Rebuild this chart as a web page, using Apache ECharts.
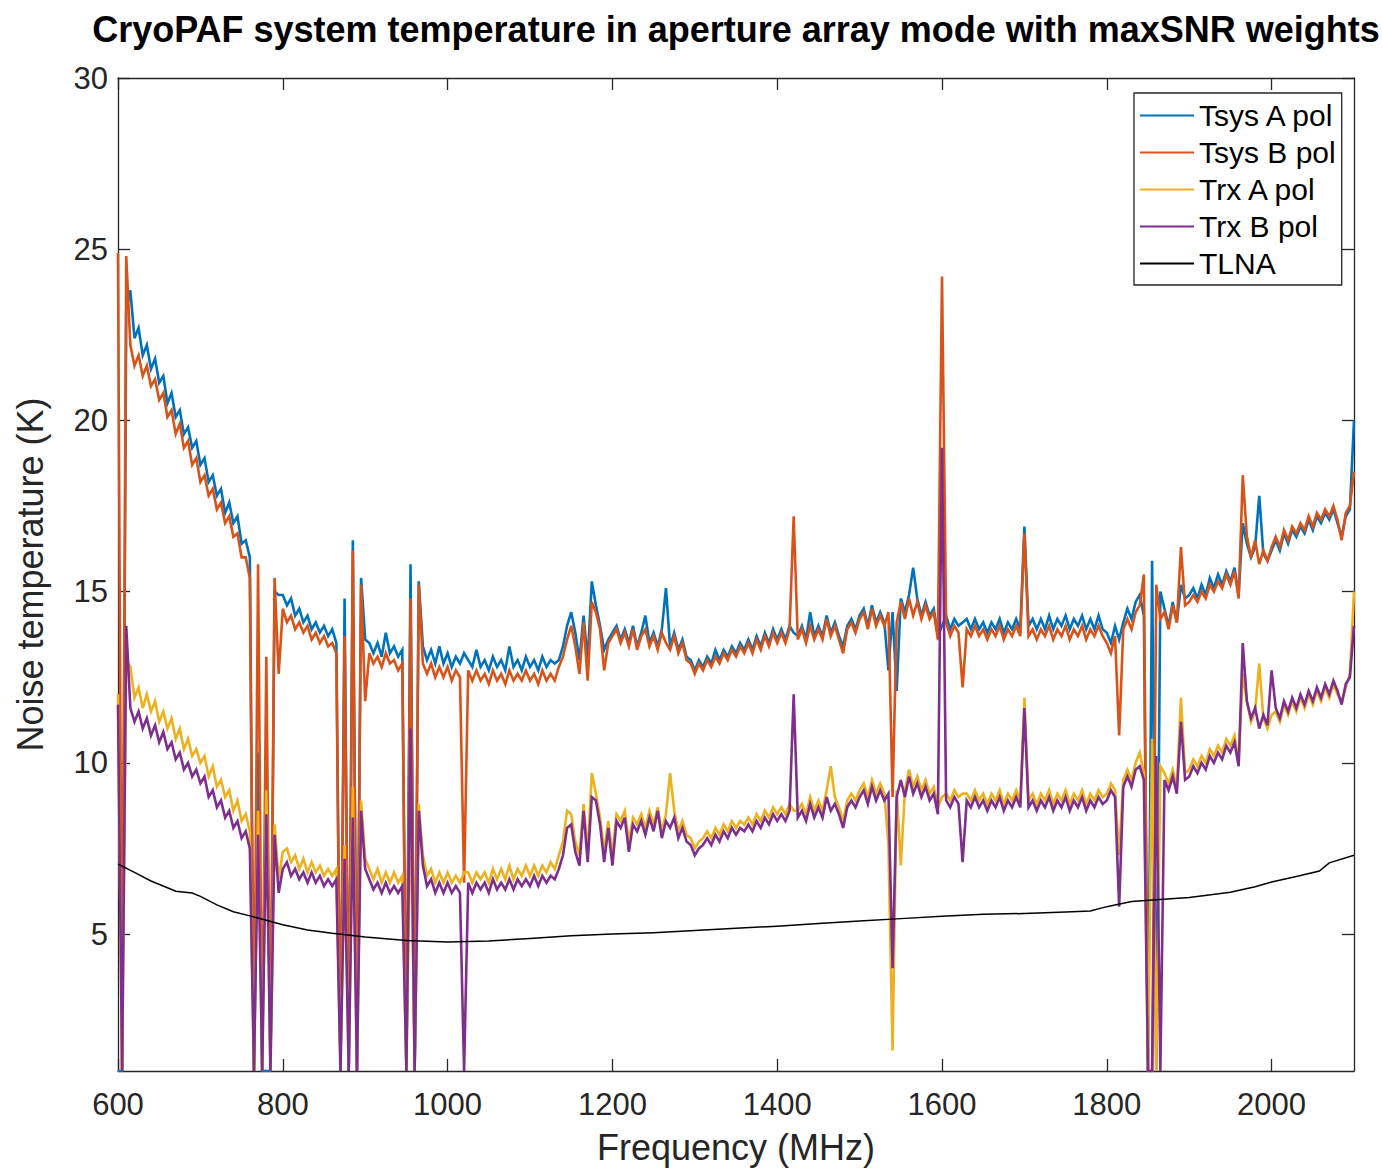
<!DOCTYPE html>
<html>
<head>
<meta charset="utf-8">
<script src="https://cdn.jsdelivr.net/npm/echarts@6/dist/echarts.min.js"></script>
<style>
html,body{margin:0;padding:0;background:#fff;}
#chart{width:1382px;height:1170px;}
</style>
</head>
<body>
<div id="chart"></div>
<script>
// Sample grid: 600 .. 2100 MHz, every 5 MHz (301 samples per series)
const freqStart = 600;
const freqStep = 5;

const tsysA = [
  1.0, 1.0, 23.2, 23.8, 22.4, 22.7, 21.9, 22.2, 21.5, 21.8, 21.1, 21.3, 20.5, 20.8, 20.1, 20.3, 19.6, 19.8, 19.2, 19.4,
  18.7, 18.9, 18.2, 18.4, 17.8, 18.0, 17.3, 17.6, 17.0, 17.2, 16.4, 16.5, 16.0, 1.0, 10.3, 1.0, 1.0, 1.0, 15.0, 14.9,
  14.9, 14.6, 14.8, 14.3, 14.5, 14.1, 14.3, 13.9, 14.1, 13.8, 14.0, 13.7, 13.9, 13.5, 1.0, 14.8, 1.0, 16.5, 1.0, 15.4,
  13.6, 13.5, 13.2, 13.5, 13.1, 13.8, 13.2, 13.4, 13.1, 13.3, 1.0, 15.8, 1.0, 15.3, 13.4, 13.0, 13.3, 12.9, 13.4, 12.9,
  13.2, 12.8, 13.1, 12.9, 13.2, 13.0, 12.8, 13.3, 12.8, 13.0, 12.7, 13.1, 12.8, 13.0, 12.7, 13.4, 12.8, 13.0, 12.7, 13.1,
  12.8, 13.0, 12.7, 13.1, 12.8, 13.0, 12.9, 13.0, 13.4, 14.0, 14.4, 13.8, 13.0, 14.3, 13.0, 15.3, 14.6, 14.0, 13.3, 13.6,
  13.8, 14.0, 13.6, 13.9, 13.5, 14.0, 13.4, 13.8, 14.3, 13.5, 13.8, 13.4, 13.9, 15.1, 13.4, 13.8, 13.3, 13.6, 13.1, 13.0,
  12.7, 13.0, 12.8, 13.1, 12.9, 13.3, 13.0, 13.3, 13.1, 13.4, 13.2, 13.5, 13.3, 13.6, 13.3, 13.7, 13.4, 13.8, 13.5, 13.9,
  13.6, 13.9, 13.6, 14.0, 13.8, 13.7, 14.0, 13.6, 14.4, 13.7, 14.0, 13.7, 14.3, 13.8, 14.1, 13.7, 13.4, 14.0, 14.2, 13.9,
  14.3, 14.5, 14.0, 14.6, 14.1, 14.4, 14.1, 12.7, 14.4, 12.1, 14.8, 14.4, 14.9, 15.7, 14.8, 14.3, 14.7, 14.3, 14.5, 13.7,
  14.0, 14.3, 13.9, 14.2, 14.0, 14.1, 14.2, 13.9, 14.2, 13.9, 14.1, 13.8, 14.1, 13.9, 14.2, 13.8, 14.1, 13.9, 14.2, 13.9,
  16.9, 14.0, 14.2, 13.9, 14.2, 13.9, 14.3, 13.9, 14.2, 14.0, 14.3, 13.9, 14.2, 14.0, 14.3, 13.9, 14.2, 13.9, 14.3, 13.9,
  13.8, 13.5, 14.0, 13.6, 14.1, 14.5, 14.2, 14.7, 14.9, 14.3, 1.0, 15.9, 1.0, 15.0, 14.5, 14.0, 14.7, 14.1, 15.2, 14.8,
  14.9, 15.1, 14.8, 15.2, 14.9, 15.4, 15.1, 15.5, 15.2, 15.6, 15.3, 15.7, 14.9, 17.0, 16.4, 16.0, 16.3, 17.8, 16.1, 15.9,
  16.2, 16.5, 16.2, 16.7, 16.4, 16.8, 16.6, 16.9, 16.7, 17.1, 16.8, 17.2, 17.0, 17.3, 17.1, 17.4, 17.0, 16.6, 17.2, 17.4,
  20.0
];

const tsysB = [
  24.9, 1.0, 24.8, 22.2, 21.6, 21.9, 21.3, 21.6, 21.0, 21.2, 20.6, 20.8, 20.1, 20.3, 19.6, 19.9, 19.2, 19.4, 18.7, 18.9,
  18.2, 18.4, 17.8, 18.0, 17.4, 17.6, 17.0, 17.2, 16.6, 16.7, 16.0, 16.0, 15.4, 1.0, 15.8, 1.0, 13.1, 1.0, 15.4, 12.6,
  14.5, 14.1, 14.3, 13.9, 14.1, 13.8, 14.0, 13.6, 13.8, 13.5, 13.7, 13.4, 13.5, 13.2, 1.0, 13.7, 1.0, 16.2, 1.0, 15.2,
  11.8, 13.2, 12.9, 13.1, 12.8, 13.2, 12.9, 13.0, 12.7, 12.9, 1.0, 14.8, 1.0, 15.2, 12.9, 12.6, 12.9, 12.5, 12.8, 12.5,
  12.8, 12.4, 12.7, 12.5, 6.5, 12.7, 12.4, 12.7, 12.4, 12.6, 12.3, 12.7, 12.4, 12.6, 12.3, 12.7, 12.4, 12.6, 12.4, 12.7,
  12.4, 12.6, 12.3, 12.7, 12.4, 12.6, 12.4, 12.8, 13.1, 13.6, 14.0, 13.4, 12.6, 14.1, 12.4, 14.7, 14.4, 13.9, 12.7, 13.5,
  13.7, 13.9, 13.5, 13.8, 13.4, 13.9, 13.3, 13.7, 13.9, 13.4, 13.7, 13.3, 13.8, 13.5, 13.3, 13.7, 13.2, 13.5, 13.0, 12.9,
  12.6, 12.9, 12.7, 13.0, 12.8, 13.1, 12.9, 13.2, 13.0, 13.3, 13.1, 13.4, 13.2, 13.5, 13.2, 13.6, 13.3, 13.7, 13.4, 13.8,
  13.5, 13.8, 13.5, 13.9, 17.2, 13.6, 13.9, 13.5, 14.0, 13.6, 13.9, 13.6, 14.2, 13.7, 14.0, 13.6, 13.2, 13.9, 14.1, 13.8,
  14.2, 14.4, 13.9, 14.5, 14.0, 14.3, 14.0, 14.4, 9.0, 14.1, 14.7, 14.2, 14.8, 14.3, 14.7, 14.2, 14.6, 14.2, 14.4, 13.6,
  24.2, 14.1, 13.7, 14.0, 13.8, 12.2, 13.9, 13.7, 14.0, 13.7, 13.9, 13.6, 13.9, 13.7, 14.0, 13.6, 13.9, 13.7, 14.0, 13.7,
  16.7, 13.7, 13.9, 13.6, 13.9, 13.7, 14.0, 13.6, 13.9, 13.7, 14.0, 13.6, 13.9, 13.7, 14.0, 13.6, 13.9, 13.7, 14.0, 13.7,
  13.5, 13.2, 13.7, 10.8, 13.9, 14.2, 13.9, 14.4, 14.6, 15.5, 1.0, 1.0, 15.2, 14.2, 14.4, 13.9, 14.6, 14.1, 16.3, 14.6,
  14.7, 14.9, 14.7, 15.0, 14.8, 15.2, 15.0, 15.3, 15.1, 15.5, 15.2, 15.6, 14.8, 18.4, 16.6, 16.0, 16.5, 15.8, 16.2, 15.9,
  16.3, 16.6, 16.3, 16.8, 16.5, 16.9, 16.7, 17.0, 16.8, 17.2, 16.9, 17.3, 17.1, 17.4, 17.2, 17.5, 17.1, 16.5, 17.3, 17.5,
  18.5
];

const trxA = [
  12.0, 1.0, 13.0, 12.8, 11.9, 12.2, 11.6, 12.0, 11.5, 11.8, 11.2, 11.5, 11.0, 11.3, 10.7, 11.0, 10.4, 10.7, 10.2, 10.4,
  10.0, 10.2, 9.6, 9.9, 9.3, 9.5, 9.0, 9.2, 8.6, 8.9, 8.3, 8.5, 8.0, 1.0, 8.6, 1.0, 9.2, 1.0, 8.2, 6.6,
  7.4, 7.5, 7.1, 7.3, 6.9, 7.2, 6.8, 7.1, 6.8, 7.0, 6.7, 6.9, 6.7, 6.9, 1.0, 7.6, 1.0, 9.3, 1.0, 8.9,
  7.2, 6.9, 6.6, 6.9, 6.5, 6.8, 6.5, 6.8, 6.5, 6.7, 1.0, 8.9, 1.0, 8.8, 7.3, 6.7, 6.9, 6.5, 6.8, 6.5,
  6.8, 6.5, 6.7, 6.5, 6.8, 6.8, 6.5, 6.8, 6.6, 6.8, 6.5, 6.9, 6.6, 6.9, 6.6, 7.0, 6.6, 6.9, 6.7, 7.0,
  6.7, 7.0, 6.7, 7.0, 6.8, 7.1, 6.9, 7.3, 7.7, 8.6, 8.5, 7.7, 7.3, 8.8, 7.4, 9.7, 9.1, 8.4, 7.4, 8.3,
  7.3, 8.5, 8.3, 8.6, 7.7, 8.4, 8.2, 8.5, 8.1, 8.6, 8.2, 8.7, 8.0, 8.5, 9.7, 8.6, 8.0, 8.3, 7.9, 7.8,
  7.5, 7.7, 7.8, 8.0, 7.8, 8.1, 7.9, 8.2, 8.0, 8.3, 8.1, 8.3, 8.2, 8.4, 8.2, 8.5, 8.3, 8.6, 8.4, 8.7,
  8.5, 8.7, 8.5, 8.8, 8.6, 8.6, 8.8, 8.5, 9.0, 8.6, 8.9, 8.6, 9.2, 9.9, 9.0, 8.7, 8.3, 8.9, 9.1, 8.9,
  9.2, 9.4, 9.0, 9.5, 9.1, 9.4, 9.1, 7.6, 1.6, 9.2, 7.0, 9.2, 9.8, 9.3, 9.6, 9.2, 9.5, 9.1, 9.3, 8.7,
  9.0, 9.1, 8.9, 9.2, 9.0, 9.1, 9.1, 8.9, 9.2, 8.9, 9.1, 8.8, 9.1, 8.9, 9.2, 8.8, 9.1, 8.9, 9.2, 8.9,
  11.9, 8.9, 9.1, 8.8, 9.1, 8.9, 9.2, 8.8, 9.1, 8.9, 9.2, 8.8, 9.1, 8.9, 9.2, 8.8, 9.1, 8.9, 9.2, 9.0,
  9.1, 9.4, 9.2, 7.3, 9.5, 9.8, 9.5, 10.0, 10.3, 9.7, 1.0, 10.7, 1.0, 9.9, 9.7, 9.4, 9.8, 9.3, 11.9, 9.7,
  9.8, 10.1, 9.9, 10.2, 10.0, 10.4, 10.2, 10.5, 10.3, 10.7, 10.5, 10.8, 10.0, 12.6, 11.8, 11.2, 11.5, 12.9, 11.3, 11.0,
  11.4, 11.5, 11.2, 11.7, 11.4, 11.8, 11.5, 11.9, 11.6, 12.0, 11.7, 12.1, 11.8, 12.2, 11.9, 12.3, 12.0, 11.8, 12.2, 12.6,
  15.0
];

const trxB = [
  11.7, 1.0, 14.0, 11.6, 11.2, 11.5, 11.0, 11.3, 10.8, 11.1, 10.6, 10.9, 10.4, 10.6, 10.1, 10.3, 9.8, 10.0, 9.6, 9.8,
  9.4, 9.6, 9.0, 9.2, 8.7, 8.9, 8.4, 8.6, 8.1, 8.3, 7.8, 8.0, 7.5, 1.0, 7.9, 1.0, 8.5, 1.0, 7.9, 6.2,
  6.9, 7.1, 6.7, 6.9, 6.6, 6.8, 6.5, 6.8, 6.5, 6.7, 6.4, 6.6, 6.4, 6.6, 1.0, 7.2, 1.0, 8.4, 1.0, 8.6,
  6.9, 6.6, 6.3, 6.5, 6.2, 6.5, 6.2, 6.4, 6.2, 6.4, 1.0, 11.0, 1.0, 8.6, 7.0, 6.4, 6.6, 6.2, 6.5, 6.2,
  6.5, 6.2, 6.4, 6.2, 1.0, 6.5, 6.2, 6.5, 6.3, 6.5, 6.2, 6.6, 6.3, 6.5, 6.3, 6.6, 6.3, 6.6, 6.4, 6.6,
  6.4, 6.7, 6.4, 6.7, 6.5, 6.7, 6.6, 6.9, 7.3, 8.1, 8.2, 7.4, 7.0, 8.6, 7.1, 9.0, 8.9, 8.2, 7.1, 8.1,
  7.0, 8.3, 8.1, 8.4, 7.4, 8.2, 8.0, 8.3, 7.9, 8.4, 8.0, 8.6, 7.8, 8.3, 8.1, 8.4, 7.8, 8.1, 7.7, 7.6,
  7.3, 7.5, 7.6, 7.8, 7.6, 7.9, 7.7, 8.0, 7.8, 8.1, 7.9, 8.1, 8.0, 8.2, 8.0, 8.3, 8.1, 8.4, 8.2, 8.5,
  8.3, 8.5, 8.3, 8.6, 12.0, 8.4, 8.6, 8.3, 8.8, 8.4, 8.7, 8.4, 9.0, 8.6, 8.8, 8.5, 8.1, 8.7, 8.9, 8.7,
  9.0, 9.2, 8.8, 9.3, 8.9, 9.2, 8.9, 9.1, 4.0, 9.0, 9.5, 9.0, 9.6, 9.1, 9.4, 9.0, 9.3, 8.9, 9.1, 8.5,
  19.2, 8.9, 8.7, 9.0, 8.8, 7.1, 8.9, 8.7, 9.0, 8.7, 8.9, 8.6, 8.9, 8.7, 9.0, 8.6, 8.9, 8.7, 9.0, 8.7,
  11.6, 8.7, 8.9, 8.6, 8.9, 8.7, 9.0, 8.6, 8.9, 8.7, 9.0, 8.6, 8.9, 8.7, 9.0, 8.6, 8.9, 8.7, 9.0, 8.8,
  8.9, 9.2, 9.0, 5.8, 9.3, 9.6, 9.3, 9.8, 9.9, 9.5, 1.0, 1.0, 10.2, 1.0, 9.5, 9.2, 9.6, 9.1, 11.2, 9.5,
  9.6, 9.9, 9.7, 10.0, 9.8, 10.2, 10.0, 10.3, 10.1, 10.5, 10.3, 10.6, 9.9, 13.5, 11.8, 11.3, 11.6, 11.0, 11.4, 11.1,
  12.7, 11.6, 11.3, 11.8, 11.5, 11.9, 11.6, 12.0, 11.7, 12.1, 11.8, 12.2, 11.9, 12.3, 12.0, 12.4, 12.1, 11.7, 12.3, 12.5,
  14.0
];

// LNA noise temperature, sampled separately
const tlnaFreq = [600, 620, 640, 660, 670, 690, 700, 720, 740, 760, 780, 800, 830, 860, 900, 950, 1000, 1050, 1100, 1150,
  1200, 1250, 1300, 1350, 1400, 1450, 1500, 1550, 1600, 1650, 1700, 1750, 1780, 1800, 1830, 1860, 1900, 1950, 1980, 2000,
  2030, 2058, 2070, 2100];
const tlnaVals = [7.04, 6.8, 6.55, 6.35, 6.25, 6.2, 6.1, 5.85, 5.65, 5.53, 5.4, 5.27, 5.12, 5.02, 4.91, 4.81, 4.77, 4.8, 4.87, 4.95,
  5.0, 5.04, 5.1, 5.17, 5.23, 5.31, 5.38, 5.45, 5.52, 5.58, 5.6, 5.64, 5.67, 5.8, 5.95, 6.0, 6.07, 6.22, 6.38, 6.52,
  6.68, 6.84, 7.08, 7.3];

const seriesNames = ['Tsys A pol', 'Tsys B pol', 'Trx A pol', 'Trx B pol', 'TLNA'];
const seriesColors = ['#0072BD', '#D95319', '#EDB120', '#7E2F8E', '#000000'];
const xTickValues = [600, 800, 1000, 1200, 1400, 1600, 1800, 2000];
const yTickValues = [5, 10, 15, 20, 25, 30];

const freq = tsysA.map((_, i) => freqStart + i * freqStep);
const pair = (xs, ys) => ys.map((v, i) => [xs[i], v]);
const seriesData = [
  pair(freq, tsysA),
  pair(freq, tsysB),
  pair(freq, trxA),
  pair(freq, trxB),
  pair(tlnaFreq, tlnaVals)
];

const FONT = '"Liberation Sans", Arial, Helvetica, sans-serif';
const AX = '#262626';

const axisCommon = (ticks, showLabel, margin) => ({
  type: 'value',
  axisLine: { show: true, onZero: false, lineStyle: { color: AX, width: 1.3 } },
  axisTick: { show: true, inside: true, length: 12, customValues: ticks, lineStyle: { color: AX, width: 1.3 } },
  axisLabel: showLabel
    ? { show: true, customValues: ticks, color: AX, fontSize: 31, fontFamily: FONT, margin: margin,
        formatter: (v) => String(v) }
    : { show: false },
  splitLine: { show: false }
});

const chart = echarts.init(document.getElementById('chart'), null, { renderer: 'svg', width: 1382, height: 1170 });

chart.setOption({
  animation: false,
  backgroundColor: '#ffffff',
  title: {
    text: 'CryoPAF system temperature in aperture array mode with maxSNR weights',
    left: 731,
    top: 6,
    textAlign: 'center',
    textStyle: { fontSize: 36, fontWeight: 'bold', color: '#000', fontFamily: FONT }
  },
  grid: { left: 118, right: 28, top: 78, bottom: 99, containLabel: false, outerBoundsMode: 'none' },
  legend: {
    orient: 'vertical',
    left: 1134,
    top: 93,
    padding: [4, 6, 3, 6],
    itemGap: 0,
    itemWidth: 54,
    itemHeight: 2,
    itemTextGap: 4,
    icon: 'rect',
    borderColor: AX,
    borderWidth: 1.3,
    backgroundColor: '#fff',
    textStyle: { fontSize: 30, color: '#000', lineHeight: 37, fontFamily: FONT },
    data: seriesNames
  },
  xAxis: [
    Object.assign(axisCommon(xTickValues, true, 18), {
      min: 600, max: 2100, position: 'bottom',
      name: 'Frequency (MHz)', nameLocation: 'middle', nameGap: 58,
      nameTextStyle: { fontSize: 36, color: AX, fontFamily: FONT }
    }),
    Object.assign(axisCommon(xTickValues, false), { min: 600, max: 2100, position: 'top' })
  ],
  yAxis: [
    Object.assign(axisCommon(yTickValues, true, 10), {
      min: 1, max: 30, position: 'left',
      name: 'Noise temperature (K)', nameLocation: 'middle', nameGap: 70,
      nameTextStyle: { fontSize: 36, color: AX, fontFamily: FONT }
    }),
    Object.assign(axisCommon(yTickValues, false), { min: 1, max: 30, position: 'right' })
  ],
  series: seriesNames.map((name, i) => ({
    name: name,
    type: 'line',
    xAxisIndex: 0,
    yAxisIndex: 0,
    data: seriesData[i],
    showSymbol: false,
    symbol: 'none',
    sampling: false,
    color: seriesColors[i],
    lineStyle: { color: seriesColors[i], width: i === 4 ? 1.5 : 2.6, join: 'miter' },
    emphasis: { disabled: true },
    z: 2 + i
  }))
});
</script>
</body>
</html>
